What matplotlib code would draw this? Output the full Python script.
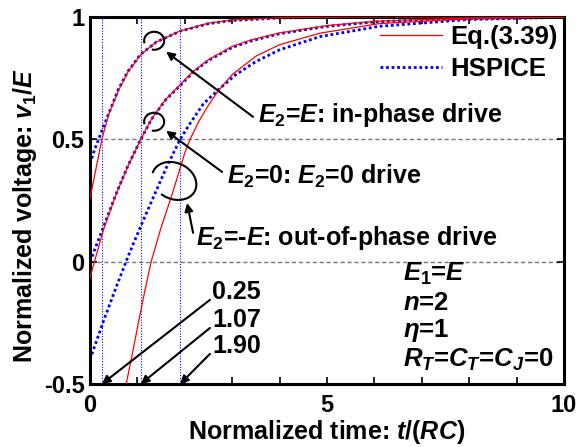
import matplotlib
matplotlib.use("Agg")
import matplotlib.pyplot as plt
from matplotlib.patches import Arc
from matplotlib.transforms import ScaledTranslation

plt.rcParams['font.family'] = 'Liberation Sans'
plt.rcParams['font.weight'] = 'bold'
plt.rcParams['axes.labelweight'] = 'bold'
plt.rcParams['mathtext.fontset'] = 'custom'
plt.rcParams['mathtext.rm'] = 'Liberation Sans:bold'
plt.rcParams['mathtext.bf'] = 'Liberation Sans:bold'
plt.rcParams['mathtext.it'] = 'Liberation Sans:italic:bold'
plt.rcParams['mathtext.bfit'] = 'Liberation Sans:italic:bold'

# Eq.(3.39) curves
t_in_eq = [0, 0.1, 0.25, 0.4, 0.6, 0.8, 1.07, 1.4, 1.9, 2.5, 3, 4, 5, 6, 8, 10]
v_in_eq = [0.26, 0.355, 0.5, 0.605, 0.70, 0.775, 0.846, 0.898, 0.943, 0.975, 0.988, 0.997, 0.999, 1, 1, 1]
t_zero_eq = [0, 0.1, 0.3, 0.56, 0.8, 1.07, 1.3, 1.59, 1.9, 2.18, 2.5, 3, 3.41, 4, 5, 6, 7, 8, 10]
v_zero_eq = [-0.065, 0.005, 0.14, 0.28, 0.39, 0.5, 0.585, 0.662, 0.723, 0.778, 0.826, 0.88, 0.907, 0.935, 0.965, 0.982, 0.99, 0.995, 1.0]
t_out_eq = [0.7, 0.9, 1.02, 1.15, 1.29, 1.5, 1.74, 2.0, 2.11, 2.3, 2.5, 2.71, 3.0, 3.5, 4.0, 4.85, 6.1, 8, 10]
v_out_eq = [-0.56, -0.37, -0.25, -0.125, 0.0, 0.14, 0.28, 0.445, 0.5, 0.575, 0.64, 0.70, 0.765, 0.84, 0.887, 0.934, 0.973, 0.993, 1.0]

# HSPICE curves
t_in_sp = [0, 0.1, 0.2, 0.3, 0.45, 0.6, 0.8, 1.07, 1.4, 1.9, 2.5, 3, 4, 5, 6, 8, 10]
v_in_sp = [0.40, 0.46, 0.51, 0.56, 0.632, 0.705, 0.778, 0.848, 0.898, 0.942, 0.973, 0.986, 0.996, 0.999, 1, 1, 1]
t_zero_sp = [0, 0.15, 0.3, 0.56, 0.8, 1.07, 1.3, 1.59, 1.9, 2.18, 2.5, 3, 3.41, 4, 5, 6, 7, 8, 10]
v_zero_sp = [0.0, 0.075, 0.15, 0.282, 0.392, 0.5, 0.583, 0.66, 0.72, 0.775, 0.823, 0.876, 0.903, 0.932, 0.962, 0.98, 0.989, 0.994, 0.999]
t_out_sp = [0, 0.28, 0.55, 0.81, 1.07, 1.34, 1.6, 1.9, 2.11, 2.39, 2.71, 3.06, 3.5, 4.0, 4.85, 6.1, 8, 10]
v_out_sp = [-0.40, -0.245, -0.105, 0.025, 0.145, 0.265, 0.38, 0.5, 0.565, 0.645, 0.703, 0.762, 0.818, 0.866, 0.92, 0.962, 0.99, 0.999]

# 50% delay times
delays = [0.25, 1.07, 1.90]

fig = plt.figure(figsize=(5.8, 4.47), dpi=100)
ax = fig.add_axes([0.1552, 0.1409, 0.8172, 0.8210])

for d in delays:
    ax.axvline(d, color='blue', lw=0.8, ls=(0, (1, 1.5)), zorder=1)
for y in [0, 0.5]:
    ax.axhline(y, color='#777777', lw=1.0, ls=(0, (3, 2)), zorder=1)

ax.plot(t_in_eq, v_in_eq, color='red', lw=0.9, label='Eq.(3.39)', zorder=3)
ax.plot(t_zero_eq, v_zero_eq, color='red', lw=0.9, zorder=3)
ax.plot(t_out_eq, v_out_eq, color='red', lw=0.9, zorder=3)
ax.plot(t_in_sp, v_in_sp, color='blue', lw=2.0, ls=(0, (1, 1)), label='HSPICE', zorder=2)
ax.plot(t_zero_sp, v_zero_sp, color='blue', lw=2.0, ls=(0, (1, 1)), zorder=2)
ax.plot(t_out_sp, v_out_sp, color='blue', lw=2.0, ls=(0, (1, 1)), zorder=2)

ax.set_xlim(0, 10)
ax.set_ylim(-0.5, 1)
ax.set_xticks([0, 5, 10])
ax.set_xticks(range(0, 11), minor=True)
ax.set_yticks([-0.5, 0, 0.5, 1])
ax.set_yticklabels(['-0.5', '0', '0.5', '1'])
ax.tick_params(which='both', direction='in', top=True, right=True, length=5, width=1.2, labelsize=17)
ax.tick_params(axis='x', pad=7)
ax.tick_params(axis='y', pad=4)
for lab in ax.get_xticklabels() + ax.get_yticklabels():
    lab.set_fontweight('bold')
for s in ax.spines.values():
    s.set_linewidth(2.2)

ax.set_xlabel(r'Normalized time: $t$/($RC$)', fontsize=18, labelpad=1)
ax.set_ylabel(r'Normalized voltage: $v_\mathrm{1}$/$E$', fontsize=18)
ax.yaxis.set_label_coords(-0.107, 0.458)

ax.legend(loc='upper left', bbox_to_anchor=(0.59, 1.005), frameon=False, fontsize=18.5,
          handlelength=2.4, handletextpad=0.35, labelspacing=0.3, borderaxespad=0)

# loops marking each pair of curves
def loop(cx, cy, w, h, ang, th1, th2):
    tr = fig.dpi_scale_trans + ScaledTranslation(cx, cy, ax.transData)
    ax.add_patch(Arc((0, 0), w, h, angle=ang, theta1=th1, theta2=th2, transform=tr,
                     color='black', lw=1.5, zorder=5))

loop(1.353, 0.903, 0.20, 0.18, 0, -105, 195)
loop(1.353, 0.572, 0.20, 0.18, 0, -105, 195)
loop(1.775, 0.33, 0.46, 0.36, -25, -110, 185)

arrow = dict(arrowstyle='-|>', color='black', lw=1.5, mutation_scale=12, shrinkA=0, shrinkB=0)
ax.annotate('', xy=(1.606, 0.858), xytext=(3.44, 0.592), arrowprops=arrow)
ax.annotate('', xy=(1.606, 0.535), xytext=(2.786, 0.367), arrowprops=arrow)
ax.annotate('', xy=(2.048, 0.24), xytext=(2.175, 0.118), arrowprops=arrow)

ax.text(3.55, 0.60, r'$E_\mathrm{2}$=$E$: in-phase drive', fontsize=18, va='center')
ax.text(2.90, 0.347, r'$E_\mathrm{2}$=0: $E_\mathrm{2}$=0 drive', fontsize=18, va='center')
ax.text(2.24, 0.097, r'$E_\mathrm{2}$=-$E$: out-of-phase drive', fontsize=18, va='center')

for d, ty in zip(delays, [-0.123, -0.238, -0.344]):
    ax.annotate('', xy=(d, -0.5), xytext=(2.53, ty - 0.033), arrowprops=arrow)
    ax.text(2.58, ty, '%.2f' % d, fontsize=18, va='center')

params = [r'$E_\mathrm{1}$=$E$', r'$n$=2', r'$\eta$=1', r'$R_T$=$C_T$=$C_J$=0']
for p, ty in zip(params, [-0.05, -0.167, -0.282, -0.4]):
    ax.text(6.6, ty, p, fontsize=18.5, va='center')

fig.savefig('out.png', dpi=100)
